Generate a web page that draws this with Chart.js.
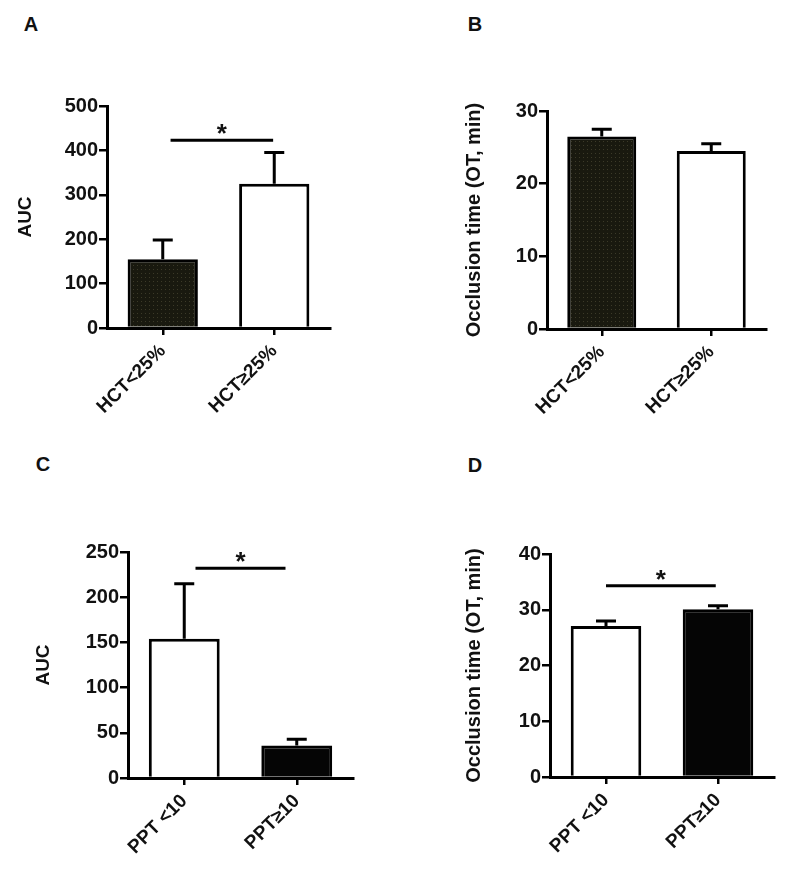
<!DOCTYPE html>
<html lang="en">
<head>
<meta charset="UTF-8">
<title>AUC and occlusion time by HCT and PPT</title>
<script src="https://cdn.jsdelivr.net/npm/chart.js@4.4.1/dist/chart.umd.min.js"></script>
<style>
  body { margin: 0; background: #fff; font-family: 'Liberation Sans', Arial, sans-serif; }
  #fig { position: relative; width: 788px; height: 870px; }
  .panel { position: absolute; width: 394px; height: 435px; }
  .tag { position: absolute; font-weight: bold; font-size: 20px; color: #111; transform: translate(-50%, -50%); }
</style>
</head>
<body>
<div id="fig">
  <div class="tag" style="left:31px;top:24px">A</div>
  <div class="tag" style="left:475px;top:24px">B</div>
  <div class="tag" style="left:43px;top:464px">C</div>
  <div class="tag" style="left:475px;top:465px">D</div>
  <div class="panel" style="left:0;top:0"><canvas id="chartA" width="394" height="435"></canvas></div>
  <div class="panel" style="left:394px;top:0"><canvas id="chartB" width="394" height="435"></canvas></div>
  <div class="panel" style="left:0;top:435px"><canvas id="chartC" width="394" height="435"></canvas></div>
  <div class="panel" style="left:394px;top:435px"><canvas id="chartD" width="394" height="435"></canvas></div>
</div>

<script>
// groups
const hctGroups = ['HCT<25%', 'HCT\u226525%'];
const pptGroups = ['PPT <10', 'PPT\u226510'];

// A: AUC by HCT (mean, SEM)
const aucHct = [155, 325];
const aucHctErr = [43, 70];
const aucHctTicks = [0, 100, 200, 300, 400, 500];

// B: occlusion time by HCT
const otHct = [26.5, 24.5];
const otHctErr = [1.0, 1.0];
const otHctTicks = [0, 10, 20, 30];

// C: AUC by PPT
const aucPpt = [154, 36];
const aucPptErr = [61, 7];
const aucPptTicks = [0, 50, 100, 150, 200, 250];

// D: occlusion time by PPT
const otPpt = [27.1, 30.1];
const otPptErr = [0.9, 0.6];
const otPptTicks = [0, 10, 20, 30, 40];

// significance bars: [from category, to category, y value]
const sigAucHct = [0.07, 0.99, 423];
const sigAucPpt = [0.1, 0.9, 232];
const sigOtPpt = [0.0, 0.98, 34.3];

const FONT = "'Liberation Sans', Arial, sans-serif";

// dotted dark fill like the GraphPad pattern
function dotPattern() {
  const c = document.createElement('canvas');
  c.width = 4; c.height = 4;
  const g = c.getContext('2d');
  g.fillStyle = '#19190f';
  g.fillRect(0, 0, 4, 4);
  g.fillStyle = '#3c3a28';
  g.fillRect(1, 1, 1, 1);
  return g.createPattern(c, 'repeat');
}
const dark = dotPattern();

const errorBars = {
  id: 'errorBars',
  afterDatasetsDraw(chart, args, opts) {
    const ctx = chart.ctx;
    const y = chart.scales.y;
    const x = chart.scales.x;
    const vals = chart.data.datasets[0].data;
    ctx.save();
    ctx.strokeStyle = '#000';
    ctx.lineWidth = 3;
    chart.getDatasetMeta(0).data.forEach((bar, i) => {
      const base = y.getPixelForValue(vals[i]);
      const top = y.getPixelForValue(vals[i] + opts.err[i]);
      ctx.beginPath();
      ctx.moveTo(bar.x, base);
      ctx.lineTo(bar.x, top);
      ctx.moveTo(bar.x - 10, top);
      ctx.lineTo(bar.x + 10, top);
      ctx.stroke();
    });
    if (opts.sig) {
      const [a, b, v] = opts.sig;
      const x0 = x.getPixelForValue(0), x1 = x.getPixelForValue(1);
      const from = x0 + (x1 - x0) * a, to = x0 + (x1 - x0) * b;
      const ly = y.getPixelForValue(v);
      ctx.beginPath();
      ctx.moveTo(from, ly);
      ctx.lineTo(to, ly);
      ctx.stroke();
      ctx.fillStyle = '#111';
      ctx.font = 'bold 26px ' + FONT;
      ctx.textAlign = 'center';
      ctx.textBaseline = 'alphabetic';
      ctx.fillText('*', (from + to) / 2, ly + 2);
    }
    ctx.restore();
  }
};

function makeChart(id, labels, values, errs, fills, ticks, title, titleSize, geom, sig) {
  new Chart(document.getElementById(id), {
    type: 'bar',
    data: {
      labels: labels,
      datasets: [{
        data: values,
        backgroundColor: fills,
        borderColor: '#000',
        borderWidth: 3,
        barPercentage: 1,
        categoryPercentage: 0.63
      }]
    },
    options: {
      responsive: false,
      animation: false,
      devicePixelRatio: 1,
      layout: { padding: { left: geom.padLeft, top: geom.padTop, right: geom.padRight, bottom: 0 } },
      plugins: {
        legend: { display: false },
        tooltip: { enabled: false },
        errorBars: { err: errs, sig: sig }
      },
      scales: {
        x: {
          grid: { offset: false, drawOnChartArea: false, tickLength: 7, color: '#000', lineWidth: 2.5 },
          border: { display: true, color: '#000', width: 3 },
          ticks: {
            color: '#111', font: { family: FONT, size: 19, weight: 'bold' },
            minRotation: 45, maxRotation: 45, autoSkip: false, padding: 5
          },
          afterFit: s => { s.height = geom.xHeight; }
        },
        y: {
          min: ticks[0],
          max: ticks[ticks.length - 1],
          afterBuildTicks: s => { s.ticks = ticks.map(v => ({ value: v })); },
          grid: { drawOnChartArea: false, tickLength: 8, color: '#000', lineWidth: 2.5 },
          border: { display: true, color: '#000', width: 3 },
          ticks: { color: '#111', padding: 1, font: { family: FONT, size: 20, weight: 'bold' } },
          title: {
            display: true, text: title, color: '#111',
            padding: { top: 0, bottom: 0 },
            font: { family: FONT, size: titleSize, weight: 'bold' }
          },
          afterFit: s => { s.width = geom.yWidth; }
        }
      }
    },
    plugins: [errorBars]
  });
}

makeChart('chartA', hctGroups, aucHct, aucHctErr, [dark, '#fff'], aucHctTicks, 'AUC', 19,
  { padLeft: 14, padTop: 106, padRight: 64, yWidth: 93, xHeight: 107 }, sigAucHct);
makeChart('chartB', hctGroups, otHct, otHctErr, [dark, '#fff'], otHctTicks, 'Occlusion time (OT, min)', 20,
  { padLeft: 68, padTop: 111, padRight: 22, yWidth: 85, xHeight: 106 }, null);
makeChart('chartC', pptGroups, aucPpt, aucPptErr, ['#fff', '#050505'], aucPptTicks, 'AUC', 19,
  { padLeft: 32, padTop: 117, padRight: 41, yWidth: 96, xHeight: 92 }, sigAucPpt);
makeChart('chartD', pptGroups, otPpt, otPptErr, ['#fff', '#050505'], otPptTicks, 'Occlusion time (OT, min)', 20,
  { padLeft: 68, padTop: 119, padRight: 14, yWidth: 88, xHeight: 93 }, sigOtPpt);
</script>
</body>
</html>
